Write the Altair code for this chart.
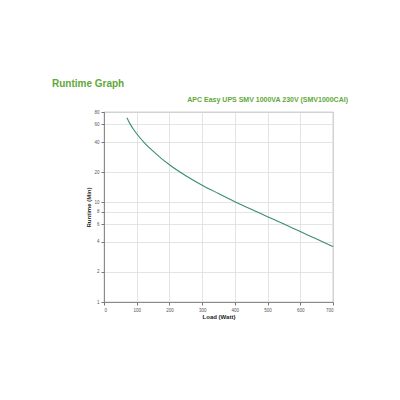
import altair as alt
import pandas as pd

load_w = [70, 80, 90, 100, 125, 150, 175, 200, 250, 300, 350, 400, 450, 500, 550, 600, 650, 700]
runtime_min = [70, 60.5, 53.7, 48.4, 38.9, 32.4, 27.5, 23.7, 18.4, 14.8, 12.2, 10.1, 8.5, 7.16, 6.03, 5.07, 4.27, 3.59]
y_ticks = [1, 2, 4, 6, 8, 10, 20, 40, 60, 80]
x_ticks = [0, 100, 200, 300, 400, 500, 600, 700]

title_text = "Runtime Graph"
subtitle_text = "APC Easy UPS SMV 1000VA 230V (SMV1000CAI)"

df = pd.DataFrame({"load": load_w, "runtime": runtime_min})

W, H = 229, 190

line = alt.Chart(df).mark_line(color="#3a8c76", strokeWidth=1.1, interpolate="monotone").encode(
    x=alt.X("load:Q", scale=alt.Scale(domain=[0, 700], nice=False),
            axis=alt.Axis(values=x_ticks, title="Load (Watt)", format="d")),
    y=alt.Y("runtime:Q", scale=alt.Scale(type="log", domain=[1, 80], nice=False),
            axis=alt.Axis(values=y_ticks, title="Runtime (Min)", format="d")),
)

t1 = alt.Chart(pd.DataFrame({"t": [title_text]})).mark_text(
    align="left", baseline="alphabetic", fontSize=10, fontWeight="bold",
    font="Liberation Sans", color="#5fa83a"
).encode(x=alt.value(-52), y=alt.value(-25), text="t:N")

t2 = alt.Chart(pd.DataFrame({"t": [subtitle_text]})).mark_text(
    align="right", baseline="alphabetic", fontSize=7, fontWeight="bold",
    font="Liberation Sans", color="#5fa83a"
).encode(x=alt.value(244), y=alt.value(-10), text="t:N")

chart = alt.layer(line, t1, t2).properties(
    width=W, height=H,
    autosize=alt.AutoSizeParams(type="none"),
    padding={"left": 96, "top": 104, "right": 40, "bottom": 60},
).configure_view(
    stroke="#777", strokeWidth=0.8
).configure_axis(
    labelFont="Liberation Sans", labelFontSize=4.5, labelColor="#555",
    titleFont="Liberation Sans", titleFontSize=6, titleFontWeight="bold", titleColor="#222",
    gridColor="#dddddd", gridWidth=0.8, domainColor="#777", domainWidth=0.8,
    tickColor="#777", tickSize=3, labelPadding=2,
).configure_axisX(titlePadding=2).configure_axisY(titlePadding=2)

chart.save("out.html", embed_options={"renderer": "svg", "actions": False})
